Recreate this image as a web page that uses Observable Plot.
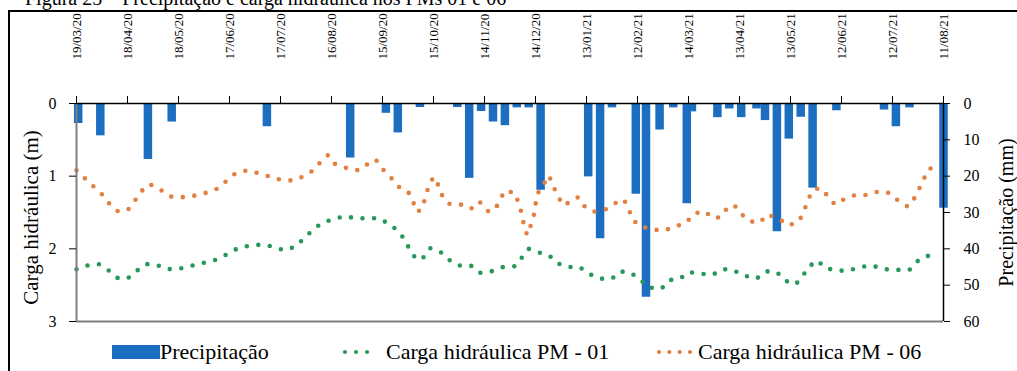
<!DOCTYPE html>
<html>
<head>
<meta charset="utf-8">
<script src="https://cdn.jsdelivr.net/npm/d3@7"></script>
<script src="https://cdn.jsdelivr.net/npm/@observablehq/plot@0.6"></script>
<style>
  html, body { margin: 0; padding: 0; background: #fff; overflow: hidden; }
  #page { position: relative; width: 1017px; height: 371px; overflow: hidden;
          font-family: "Liberation Serif", "Times New Roman", serif; color: #000; }
  #titulo { position: absolute; left: 25px; top: -12px; font-size: 20px; line-height: 20px; white-space: nowrap; }
  #moldura { position: absolute; left: 8px; top: 10px; width: 1100px; height: 400px;
             border: 2px solid #000; box-sizing: border-box; }
  #grafico { position: absolute; left: 0; top: 0; }
  #legenda { position: absolute; left: 0; top: 339px; width: 1017px; height: 26px;
             font-family: "Liberation Serif", "Times New Roman", serif; font-size: 22px; }
  .item { position: absolute; top: 0; height: 26px; display: flex; align-items: center; white-space: nowrap; }
  .item svg { display: block; }
</style>
</head>
<body>
<div id="page">
  <div id="titulo">Figura 25 – Precipitação e carga hidráulica nos PMs 01 e 06</div>
  <div id="moldura"></div>
  <div id="grafico"></div>
  <div id="legenda"></div>
</div>
<script>
// Daily rainfall (mm), right axis
const chuvaDatas = [
  "2020-03-20", "2020-04-02", "2020-04-30", "2020-05-14", "2020-07-09", "2020-08-27",
  "2020-09-17", "2020-09-24", "2020-10-07", "2020-10-29", "2020-11-05", "2020-11-12",
  "2020-11-19", "2020-11-26", "2020-12-03", "2020-12-10", "2020-12-17", "2021-01-14",
  "2021-01-21", "2021-01-28", "2021-02-11", "2021-02-17", "2021-02-25", "2021-03-05",
  "2021-03-13", "2021-03-16", "2021-03-31", "2021-04-07", "2021-04-14", "2021-04-23",
  "2021-04-28", "2021-05-05", "2021-05-12", "2021-05-19", "2021-05-26", "2021-06-09",
  "2021-07-07", "2021-07-14", "2021-07-22", "2021-08-11"
];
const chuvaMm = [
  5.5, 8.9, 15.4, 5.1, 6.4, 15.0,
  2.7, 8.1, 1.1, 1.1, 20.6, 2.2,
  5.1, 6.1, 1.2, 1.2, 23.9, 20.2,
  37.2, 1.2, 25.0, 53.3, 7.3, 1.2,
  27.6, 2.3, 3.9, 1.5, 3.9, 1.5,
  4.7, 35.3, 9.8, 3.8, 23.3, 2.0,
  1.8, 6.4, 1.2, 28.8
];

// Hydraulic head (m) at piezometer PM-01
const pm01Datas = [
  "2020-03-19", "2020-03-25", "2020-04-01", "2020-04-07", "2020-04-12", "2020-04-18",
  "2020-04-23", "2020-04-29", "2020-05-05", "2020-05-12", "2020-05-19", "2020-05-26",
  "2020-06-02", "2020-06-09", "2020-06-16", "2020-06-22", "2020-06-28", "2020-07-06",
  "2020-07-13", "2020-07-19", "2020-07-26", "2020-07-31", "2020-08-05", "2020-08-10",
  "2020-08-17", "2020-08-24", "2020-08-30", "2020-09-06", "2020-09-13", "2020-09-19",
  "2020-09-24", "2020-09-28", "2020-10-01", "2020-10-05", "2020-10-09", "2020-10-13",
  "2020-10-19", "2020-10-24", "2020-10-30", "2020-11-06", "2020-11-11", "2020-11-18",
  "2020-11-25", "2020-12-02", "2020-12-06", "2020-12-10", "2020-12-16", "2020-12-22",
  "2020-12-27", "2021-01-02", "2021-01-09", "2021-01-14", "2021-01-21", "2021-01-28",
  "2021-02-02", "2021-02-08", "2021-02-14", "2021-02-18", "2021-02-26", "2021-03-03",
  "2021-03-09", "2021-03-14", "2021-03-21", "2021-03-28", "2021-04-03", "2021-04-09",
  "2021-04-16", "2021-04-23", "2021-04-29", "2021-05-05", "2021-05-10", "2021-05-16",
  "2021-05-20", "2021-05-24", "2021-05-29", "2021-06-02", "2021-06-09", "2021-06-16",
  "2021-06-23", "2021-06-30", "2021-07-07", "2021-07-15", "2021-07-22", "2021-07-26",
  "2021-08-01", "2021-08-08"
];
const pm01Carga = [
  2.28, 2.23, 2.21, 2.30, 2.40, 2.41,
  2.31, 2.21, 2.22, 2.28, 2.27, 2.23,
  2.19, 2.15, 2.07, 1.99, 1.96, 1.94,
  1.97, 2.02, 1.97, 1.85, 1.74, 1.65,
  1.59, 1.55, 1.58, 1.58, 1.58, 1.66,
  1.75, 1.87, 2.01, 2.15, 2.12, 1.99,
  2.04, 2.15, 2.23, 2.23, 2.33, 2.31,
  2.25, 2.24, 2.12, 2.00, 2.05, 2.09,
  2.20, 2.25, 2.25, 2.34, 2.41, 2.41,
  2.31, 2.33, 2.43, 2.53, 2.55, 2.43,
  2.41, 2.32, 2.34, 2.36, 2.28, 2.29,
  2.37, 2.41, 2.31, 2.32, 2.44, 2.49,
  2.38, 2.24, 2.16, 2.26, 2.30, 2.30,
  2.25, 2.23, 2.28, 2.29, 2.29, 2.18,
  2.10, 2.08
];

// Hydraulic head (m) at piezometer PM-06
const pm06Datas = [
  "2020-03-19", "2020-03-23", "2020-03-29", "2020-04-03", "2020-04-07", "2020-04-12",
  "2020-04-18", "2020-04-22", "2020-04-26", "2020-05-01", "2020-05-07", "2020-05-13",
  "2020-05-20", "2020-05-27", "2020-06-03", "2020-06-10", "2020-06-15", "2020-06-20",
  "2020-06-27", "2020-07-04", "2020-07-10", "2020-07-17", "2020-07-24", "2020-07-31",
  "2020-08-06", "2020-08-10", "2020-08-14", "2020-08-18", "2020-08-25", "2020-09-01",
  "2020-09-05", "2020-09-11", "2020-09-15", "2020-09-20", "2020-09-24", "2020-09-30",
  "2020-10-03", "2020-10-05", "2020-10-08", "2020-10-10", "2020-10-12", "2020-10-15",
  "2020-10-18", "2020-10-20", "2020-10-24", "2020-10-31", "2020-11-06", "2020-11-11",
  "2020-11-16", "2020-11-20", "2020-11-23", "2020-11-26", "2020-12-02", "2020-12-04",
  "2020-12-06", "2020-12-07", "2020-12-09", "2020-12-11", "2020-12-13", "2020-12-14",
  "2020-12-15", "2020-12-22", "2020-12-24", "2020-12-27", "2020-12-30", "2021-01-03",
  "2021-01-08", "2021-01-12", "2021-01-17", "2021-01-24", "2021-01-30", "2021-02-04",
  "2021-02-07", "2021-02-09", "2021-02-14", "2021-02-20", "2021-02-27", "2021-03-06",
  "2021-03-13", "2021-03-17", "2021-03-23", "2021-03-29", "2021-04-02", "2021-04-06",
  "2021-04-10", "2021-04-14", "2021-04-19", "2021-04-25", "2021-04-29", "2021-05-05",
  "2021-05-12", "2021-05-18", "2021-05-21", "2021-05-23", "2021-05-26", "2021-05-30",
  "2021-06-04", "2021-06-08", "2021-06-14", "2021-06-20", "2021-06-26", "2021-07-04",
  "2021-07-10", "2021-07-15", "2021-07-21", "2021-07-25", "2021-07-28", "2021-07-31",
  "2021-08-03", "2021-08-08"
];
const pm06Carga = [
  0.92, 1.01, 1.14, 1.25, 1.37, 1.48,
  1.47, 1.35, 1.21, 1.11, 1.18, 1.28,
  1.29, 1.27, 1.23, 1.17, 1.07, 0.97,
  0.92, 0.96, 1.00, 1.05, 1.06, 1.00,
  0.91, 0.79, 0.71, 0.83, 0.89, 0.92,
  0.85, 0.77, 0.90, 1.02, 1.14, 1.21,
  1.35, 1.49, 1.46, 1.31, 1.15, 1.01,
  1.13, 1.26, 1.38, 1.39, 1.45, 1.35,
  1.48, 1.47, 1.33, 1.20, 1.23, 1.37,
  1.52, 1.65, 1.81, 1.69, 1.54, 1.39,
  1.25, 0.99, 1.12, 1.26, 1.40, 1.36,
  1.29, 1.42, 1.49, 1.46, 1.37, 1.32,
  1.46, 1.60, 1.69, 1.73, 1.75, 1.70,
  1.63, 1.52, 1.48, 1.58, 1.56, 1.43,
  1.40, 1.52, 1.62, 1.64, 1.53, 1.57,
  1.68, 1.62, 1.48, 1.34, 1.20, 1.16,
  1.27, 1.39, 1.31, 1.26, 1.26, 1.21,
  1.23, 1.33, 1.42, 1.30, 1.16, 1.01,
  0.89, 0.96
];

// Axis ticks
const datasEixo = [
  "2020-03-19", "2020-04-18", "2020-05-18", "2020-06-17", "2020-07-17", "2020-08-16",
  "2020-09-15", "2020-10-15", "2020-11-14", "2020-12-14", "2021-01-13", "2021-02-12",
  "2021-03-14", "2021-04-13", "2021-05-13", "2021-06-12", "2021-07-12", "2021-08-11"
];
const cargaTicks = [0, 1, 2, 3];
const precipTicks = [0, 10, 20, 30, 40, 50, 60];

const seriesNomes = ["Precipitação", "Carga hidráulica PM - 01", "Carga hidráulica PM - 06"];
const AZUL = "#1c6fc0";
const VERDE = "#27985a";
const LARANJA = "#e28042";
const SERIF = "'Liberation Serif', 'Times New Roman', serif";

// 60 mm of rain share the same height as 3 m of head
const MM_POR_M = 20;

const parse = d3.utcParse("%Y-%m-%d");
const fmtData = d3.utcFormat("%d/%m/%y");

// smaller bars first so the taller neighbour is drawn over any overlap
const chuva = chuvaDatas.map((d, i) => ({data: parse(d), mm: chuvaMm[i]}))
  .sort((a, b) => a.mm - b.mm);
const pm01 = pm01Datas.map((d, i) => ({data: parse(d), carga: pm01Carga[i]}));
const pm06 = pm06Datas.map((d, i) => ({data: parse(d), carga: pm06Carga[i]}));
const ticksX = datasEixo.map(parse);
const xIni = ticksX[0], xFim = ticksX[ticksX.length - 1];

const pontilhado = {strokeWidth: 4.6, strokeDasharray: "0 11.6", strokeLinecap: "round", strokeLinejoin: "round"};

const chart = Plot.plot({
  width: 1017,
  height: 330,
  marginLeft: 76,
  marginRight: 74,
  marginTop: 103,
  marginBottom: 9,
  style: {fontFamily: SERIF, fontSize: "16px", background: "transparent", overflow: "visible"},
  x: {type: "utc", domain: [xIni, xFim]},
  y: {domain: [0, 3], reverse: true},
  marks: [
    Plot.ruleX(chuva, {x: "data", y1: () => 0, y2: d => d.mm / MM_POR_M, stroke: AZUL, strokeWidth: 8.5}),
    Plot.line(pm06, {x: "data", y: "carga", stroke: LARANJA, ...pontilhado}),
    Plot.line(pm01, {x: "data", y: "carga", stroke: VERDE, ...pontilhado}),
    Plot.ruleY([3], {stroke: "#7f7f7f", strokeWidth: 2}),
    Plot.ruleX([xIni], {stroke: "#7f7f7f", strokeWidth: 2}),
    Plot.ruleX([xFim], {stroke: "#000", strokeWidth: 1.5}),
    Plot.ruleY([0], {stroke: "#000", strokeWidth: 1.5}),
    Plot.axisY({anchor: "left", ticks: cargaTicks, tickFormat: d => String(d), tickSize: 7, tickPadding: 13,
                label: null, fontSize: 16, fontFamily: SERIF}),
    Plot.axisY({anchor: "right", ticks: precipTicks.map(v => v / MM_POR_M), tickFormat: v => String(Math.round(v * MM_POR_M)),
                tickSize: 6, tickPadding: 14, label: null, fontSize: 16, fontFamily: SERIF}),
    Plot.axisX({anchor: "top", ticks: ticksX, tickFormat: () => "", tickSize: 8, label: null}),
    Plot.text(ticksX, {x: d => d, frameAnchor: "top", text: d => fmtData(d), rotate: -90,
                       textAnchor: "start", lineAnchor: "middle", dy: -44, fontSize: 13, fontFamily: SERIF}),
    Plot.text(["Carga hidráulica (m)"], {text: d => d, frameAnchor: "left", rotate: -90, textAnchor: "middle",
                                         lineAnchor: "middle", dx: -45, dy: 5, fontSize: 21, fontFamily: SERIF}),
    Plot.text(["Precipitação (mm)"], {text: d => d, frameAnchor: "right", rotate: -90, textAnchor: "middle",
                                      lineAnchor: "middle", dx: 63, fontSize: 20, fontFamily: SERIF})
  ]
});
document.getElementById("grafico").appendChild(chart);

// Legend below the plot
const legenda = d3.select("#legenda");
function item(left) {
  return legenda.append("div").attr("class", "item").style("left", left + "px");
}
const i0 = item(112);
const s0 = i0.append("svg").attr("width", 48).attr("height", 14);
s0.append("rect").attr("width", 48).attr("height", 14).attr("fill", AZUL);
i0.append("span").text(seriesNomes[0]);

function pontos(sel, cor, n, largura) {
  const s = sel.append("svg").attr("width", largura).attr("height", 10);
  s.append("line").attr("x1", 3).attr("x2", largura - 2).attr("y1", 5).attr("y2", 5)
    .attr("stroke", cor).attr("stroke-width", 4.2).attr("stroke-linecap", "round")
    .attr("stroke-dasharray", `0 ${(largura - 5) / (n - 1)}`);
}
const i1 = item(342);
pontos(i1, VERDE, 4, 38);
i1.append("span").style("margin-left", "6px").text(seriesNomes[1]);

const i2 = item(656);
pontos(i2, LARANJA, 4, 36);
i2.append("span").style("margin-left", "6px").text(seriesNomes[2]);
</script>
</body>
</html>
